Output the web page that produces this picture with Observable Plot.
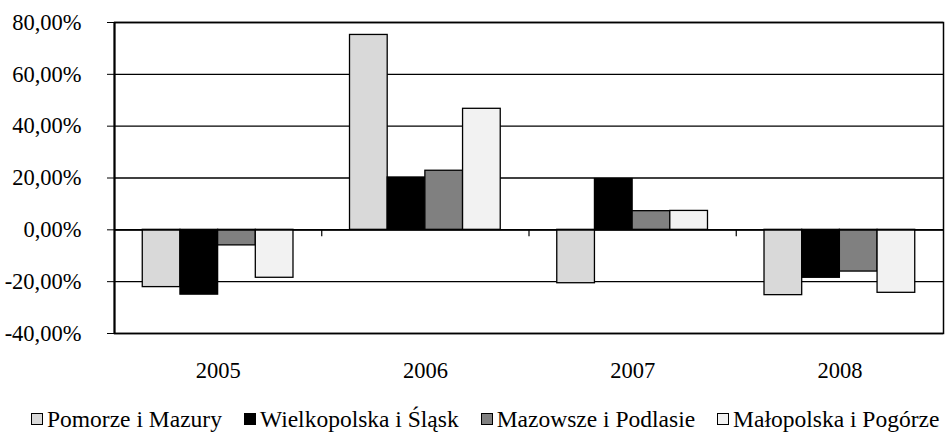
<!DOCTYPE html>
<html><head><meta charset="utf-8">
<script src="https://cdn.jsdelivr.net/npm/d3@7"></script>
<script src="https://cdn.jsdelivr.net/npm/@observablehq/plot@0.6"></script>
<style>
body{margin:0;background:#fff;}
#wrap{position:relative;width:945px;height:432px;font-family:'Liberation Serif','Times New Roman',Times,'DejaVu Serif',serif;color:#000;}
#wrap svg, #wrap svg text{font-family:'Liberation Serif','Times New Roman',Times,'DejaVu Serif',serif !important;}
#legend{position:absolute;top:407px;left:31px;display:flex;gap:22px;font-size:23.5px;line-height:24px;height:24px;white-space:nowrap;}
.item{display:flex;align-items:center;}
.sw{width:10px;height:10px;border:1px solid #000;margin-right:4px;box-sizing:content-box;}
</style></head><body><div id="wrap"></div>
<script>
const years = ["2005", "2006", "2007", "2008"];
const series = ["Pomorze i Mazury", "Wielkopolska i Śląsk", "Mazowsze i Podlasie", "Małopolska i Pogórze"];
const pomorze = [-22.1, 75.2, -20.6, -25.2];
const wielkopolska = [-25.0, 20.2, 19.6, -18.5];
const mazowsze = [-6.0, 22.8, 7.2, -16.1];
const malopolska = [-18.5, 46.7, 7.3, -24.3];
const colors = ["#d9d9d9", "#000000", "#808080", "#f2f2f2"];
const yTicks = [-40, -20, 0, 20, 40, 60, 80];

const valuesBySeries = [pomorze, wielkopolska, mazowsze, malopolska];
const slot = series.length + 1.5; // Excel gap width 150%
const data = [];
years.forEach((yr, i) => series.forEach((s, j) => data.push({
  year: yr, series: s, value: valuesBySeries[j][i],
  x1: i + (0.75 + j) / slot, x2: i + (1.75 + j) / slot
})));
const centers = years.map((_, i) => i + 0.5);
const separators = d3.range(1, years.length);
const fmt = d => d.toFixed(2).replace(".", ",") + "%";

const chart = Plot.plot({
  width: 945, height: 395,
  marginTop: 22, marginBottom: 62, marginLeft: 114, marginRight: 2,
  style: {fontSize: "22.5px", color: "#000", background: "#fff"},
  x: {type: "linear", domain: [0, years.length], ticks: centers, tickFormat: d => years[Math.floor(d)], tickSize: 0, tickPadding: 29, label: null, fontSize: 23.5},
  y: {domain: [-40, 80], ticks: yTicks, tickFormat: fmt, tickSize: 7, tickPadding: 26, label: null},
  color: {domain: series, range: colors},
  marks: [
    Plot.ruleY(yTicks, {stroke: "#000", strokeWidth: 1.3}),
    Plot.rect(data, {x1: "x1", x2: "x2", y1: 0, y2: "value", fill: "series", stroke: "#000", strokeWidth: 1.3}),
    Plot.ruleY([0], {stroke: "#000", strokeWidth: 1.6}),
    Plot.ruleX(separators, {x: d => d, y1: 0, y2: 0, insetBottom: -7, stroke: "#000", strokeWidth: 1.2}),
    Plot.frame({stroke: "#000", strokeWidth: 1.5}),
    Plot.ruleX([0], {stroke: "#000", strokeWidth: 2})
  ]
});
const wrap = document.getElementById("wrap");
wrap.appendChild(chart);

const legend = document.createElement("div");
legend.id = "legend";
series.forEach((s, j) => {
  const item = document.createElement("div");
  item.className = "item";
  const sw = document.createElement("span");
  sw.className = "sw";
  sw.style.background = colors[j];
  const t = document.createElement("span");
  t.textContent = s;
  item.appendChild(sw); item.appendChild(t);
  legend.appendChild(item);
});
wrap.appendChild(legend);
</script></body></html>
